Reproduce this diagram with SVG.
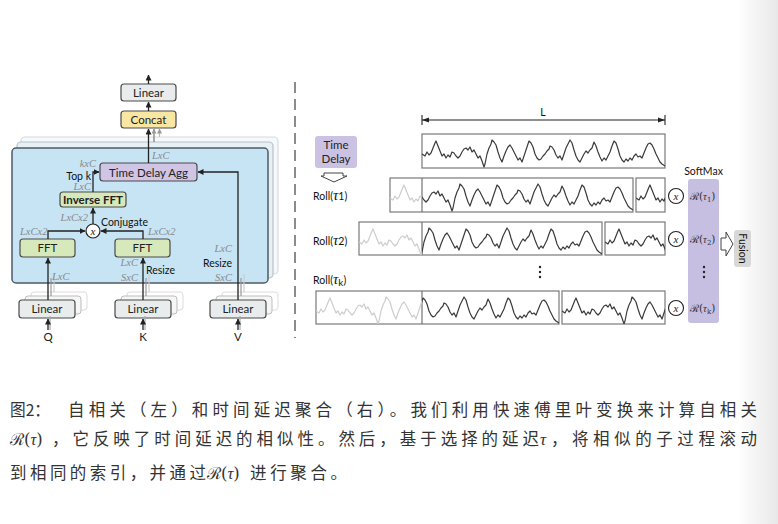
<svg xmlns="http://www.w3.org/2000/svg" xmlns:xlink="http://www.w3.org/1999/xlink" width="778" height="524" viewBox="0 0 778 524">
<style>
.box{stroke:#4a4a4a;stroke-width:1.2}
.lbl{font-family:Lato,"Open Sans","Liberation Sans",sans-serif;font-size:11.5px;fill:#222;text-anchor:middle}
.blk{font-family:Lato,"Open Sans","Liberation Sans",sans-serif;font-size:10.5px;fill:#111}
.dim{font-family:"Liberation Serif",serif;font-style:italic;font-size:10.5px;fill:#8a8a8a}
.ln{stroke:#222;stroke-width:1.3;fill:none}
.wv{fill:none;stroke:#3a3a3a;stroke-width:1.2;stroke-linejoin:round}
.wf{fill:none;stroke:#cdcdcd;stroke-width:1.2;stroke-linejoin:round}
.wb{fill:#fff;stroke:#7a7a7a;stroke-width:1.2}
.cap{font-family:"Noto Sans CJK SC","Noto Sans",sans-serif;font-size:16.5px;fill:#333}
.math{font-family:"DejaVu Serif","Liberation Serif",serif;fill:#333}
.it{font-family:"Liberation Serif",serif;font-style:italic}
</style>
<defs>
<marker id="ah" viewBox="0 0 6 6" refX="5.5" refY="3" markerWidth="6" markerHeight="6" markerUnits="userSpaceOnUse" orient="auto">
<path d="M0,0 L6,3 L0,6 z" fill="#222"/>
</marker>
<marker id="ahg" viewBox="0 0 6 6" refX="5.5" refY="3" markerWidth="5" markerHeight="5" markerUnits="userSpaceOnUse" orient="auto">
<path d="M0,0 L6,3 L0,6 z" fill="#999"/>
</marker>
<linearGradient id="strip" x1="0" y1="0" x2="1" y2="0">
<stop offset="0" stop-color="#ffffff"/>
<stop offset="0.45" stop-color="#f4f4f4"/>
<stop offset="1" stop-color="#e8e8e8"/>
</linearGradient>
<path id="w" d="M0,20 L3,22 5,18 7,21 9,19 11,14 13,9 14,7 16,12 18,17 20,22 22,20 24,24 26,21 28,23 30,18 32,19 34,22 36,24 38,22 40,18 42,15 44,14 46,16 48,13 50,18 52,16 54,20 56,24 58,22 60,27 62,33 63,30 65,20 67,14 69,10 70,6 72,8 74,11 76,18 78,24 80,28 82,22 84,17 86,13 88,11 90,14 92,18 94,22 96,26 98,24 100,28 102,22 104,16 106,10 107,7 109,9 111,13 113,20 115,24 117,26 119,25 121,22 123,20 125,17 127,15 128,12 130,13 132,16 134,21 136,24 138,22 140,26 142,20 144,14 146,10 148,6 150,9 152,16 154,22 156,26 158,28 160,24 162,20 164,17 166,19 168,16 170,14 172,8 174,12 176,18 178,23 180,27 182,24 184,26 186,22 188,18 190,12 192,7 194,9 196,15 198,22 200,26 202,28 204,25 206,27 208,24 210,26 212,22 214,20 216,23 218,22 220,24 222,19 224,14 226,10 228,9 230,11 232,15 234,20 236,24 238,28 240,30 243,32"/>
<clipPath id="r1f"><rect x="390" y="178" width="32" height="34"/></clipPath>
<clipPath id="r1d"><rect x="422" y="178" width="211" height="34"/></clipPath>
<clipPath id="r1s"><rect x="636" y="178" width="29" height="34"/></clipPath>
<clipPath id="r2f"><rect x="359" y="222" width="63" height="33"/></clipPath>
<clipPath id="r2d"><rect x="422" y="222" width="180" height="33"/></clipPath>
<clipPath id="r2s"><rect x="605" y="222" width="60" height="33"/></clipPath>
<clipPath id="rkf"><rect x="316" y="291" width="106" height="33"/></clipPath>
<clipPath id="rkd"><rect x="422" y="291" width="137" height="33"/></clipPath>
<clipPath id="rks"><rect x="562" y="291" width="103" height="33"/></clipPath>
</defs>
<rect width="778" height="524" fill="#fff"/>
<rect x="738" y="0" width="40" height="524" fill="url(#strip)"/>

<!-- left panel -->
<g id="stack">
<rect x="21" y="137" width="257" height="137" rx="4" fill="#f5f9fb" stroke="#d6dbde" stroke-width="1.2"/>
<rect x="17" y="142" width="256" height="136" rx="4" fill="#e6f0f5" stroke="#b8c2c8" stroke-width="1.2"/>
<rect x="12" y="148" width="256" height="135" rx="4" fill="#c7e4f4" stroke="#4f5b64" stroke-width="1.5"/>
</g>

<g id="linear-out">
<rect class="box" x="121" y="84" width="55" height="17" rx="3" fill="#e8ecec"/>
<text class="lbl" x="148.5" y="97">Linear</text>
</g>
<g id="concat">
<rect class="box" x="121" y="111" width="55" height="17" rx="3" fill="#fae6a3"/>
<text class="lbl" x="148.5" y="124">Concat</text>
</g>
<g id="tda">
<rect class="box" x="100" y="163" width="97" height="18" rx="3" fill="#d0c5e5"/>
<text class="lbl" x="148.5" y="176.5">Time Delay Agg</text>
</g>
<g id="ifft">
<rect class="box" x="60" y="192" width="66" height="15" rx="3" fill="#d7e9ba"/>
<text class="lbl" x="93" y="203.5" font-weight="bold" font-size="11">Inverse FFT</text>
</g>
<g id="conj">
<circle cx="93" cy="231" r="7" fill="#fff" stroke="#222" stroke-width="1.2"/>
<text x="93" y="234.5" text-anchor="middle" font-family="Liberation Serif,serif" font-style="italic" font-size="11" fill="#222">x</text>
</g>
<g id="fft-q">
<rect class="box" x="20" y="239" width="55" height="18" rx="3" fill="#d7e9ba"/>
<text class="lbl" x="47.5" y="252">FFT</text>
</g>
<g id="fft-k">
<rect class="box" x="115" y="239" width="55" height="18" rx="3" fill="#d7e9ba"/>
<text class="lbl" x="142.5" y="252">FFT</text>
</g>
<g id="lin-q">
<rect x="31" y="292" width="56" height="18" rx="3" fill="#fff" stroke="#dcdcdc"/>
<rect x="25" y="296" width="56" height="18" rx="3" fill="#f6f6f6" stroke="#bdbdbd"/>
<rect class="box" x="19" y="300" width="56" height="18" rx="3" fill="#e8ecec"/>
<text class="lbl" x="47" y="313">Linear</text>
</g>
<g id="lin-k">
<rect x="127" y="292" width="56" height="18" rx="3" fill="#fff" stroke="#dcdcdc"/>
<rect x="121" y="296" width="56" height="18" rx="3" fill="#f6f6f6" stroke="#bdbdbd"/>
<rect class="box" x="115" y="300" width="56" height="18" rx="3" fill="#e8ecec"/>
<text class="lbl" x="143" y="313">Linear</text>
</g>
<g id="lin-v">
<rect x="222" y="292" width="56" height="18" rx="3" fill="#fff" stroke="#dcdcdc"/>
<rect x="216" y="296" width="56" height="18" rx="3" fill="#f6f6f6" stroke="#bdbdbd"/>
<rect class="box" x="210" y="300" width="56" height="18" rx="3" fill="#e8ecec"/>
<text class="lbl" x="238" y="313">Linear</text>
</g>

<g id="connectors-left">
<line class="ln" x1="148.5" y1="84" x2="148.5" y2="75" marker-end="url(#ah)"/>
<line class="ln" x1="148.5" y1="111" x2="148.5" y2="102" marker-end="url(#ah)"/>
<line class="ln" x1="148.5" y1="163" x2="148.5" y2="129" marker-end="url(#ah)"/>
<line x1="154" y1="142" x2="154" y2="129" stroke="#777" stroke-width="1.2" marker-end="url(#ahg)"/>
<line x1="159.5" y1="137" x2="159.5" y2="129" stroke="#bbb" stroke-width="1.2" marker-end="url(#ahg)"/>
<path class="ln" d="M93,192 V172 H99" marker-end="url(#ah)"/>
<line class="ln" x1="93" y1="224" x2="93" y2="208" marker-end="url(#ah)"/>
<path class="ln" d="M48,239 V231 H85" marker-end="url(#ah)"/>
<path class="ln" d="M143,239 V231 H101" marker-end="url(#ah)"/>
<line x1="51" y1="296" x2="51" y2="278" stroke="#999" stroke-width="1.2"/>
<line x1="54" y1="292" x2="54" y2="274" stroke="#ccc" stroke-width="1.2"/>
<line x1="146" y1="296" x2="146" y2="278" stroke="#999" stroke-width="1.2"/>
<line x1="149" y1="292" x2="149" y2="274" stroke="#ccc" stroke-width="1.2"/>
<line x1="241" y1="296" x2="241" y2="278" stroke="#999" stroke-width="1.2"/>
<line x1="244" y1="292" x2="244" y2="274" stroke="#ccc" stroke-width="1.2"/>
<line class="ln" x1="48" y1="300" x2="48" y2="258" marker-end="url(#ah)"/>
<line class="ln" x1="143" y1="300" x2="143" y2="258" marker-end="url(#ah)"/>
<path class="ln" d="M238,300 V172 H198" marker-end="url(#ah)"/>
<line x1="50" y1="330" x2="50" y2="316" stroke="#aaa" stroke-width="1.2"/>
<line class="ln" x1="48" y1="330" x2="48" y2="319" marker-end="url(#ah)"/>
<line x1="145" y1="330" x2="145" y2="316" stroke="#aaa" stroke-width="1.2"/>
<line class="ln" x1="143" y1="330" x2="143" y2="319" marker-end="url(#ah)"/>
<line x1="240" y1="330" x2="240" y2="316" stroke="#aaa" stroke-width="1.2"/>
<line class="ln" x1="238" y1="330" x2="238" y2="319" marker-end="url(#ah)"/>
</g>

<g id="labels-left">
<text class="dim" x="152" y="159">LxC</text>
<text class="dim" x="96" y="167" text-anchor="end">kxC</text>
<text class="blk" x="91" y="180" text-anchor="end">Top k</text>
<text class="dim" x="91" y="190" text-anchor="end">LxC</text>
<text class="dim" x="88" y="221" text-anchor="end">LxCx2</text>
<text class="blk" x="101" y="226">Conjugate</text>
<text class="dim" x="20" y="235">LxCx2</text>
<text class="dim" x="148" y="235">LxCx2</text>
<text class="dim" x="52" y="280">LxC</text>
<text class="dim" x="138" y="266" text-anchor="end">LxC</text>
<text class="blk" x="146" y="274">Resize</text>
<text class="dim" x="138" y="281" text-anchor="end">SxC</text>
<text class="dim" x="232" y="252" text-anchor="end">LxC</text>
<text class="blk" x="232" y="267" text-anchor="end">Resize</text>
<text class="dim" x="232" y="281" text-anchor="end">SxC</text>
<text class="lbl" x="48" y="341" font-size="12">Q</text>
<text class="lbl" x="143" y="341" font-size="12">K</text>
<text class="lbl" x="238" y="341" font-size="12">V</text>
</g>

<line x1="295" y1="82" x2="295" y2="338" stroke="#666" stroke-width="1.5" stroke-dasharray="11 6"/>

<!-- right panel -->
<g id="length">
<line x1="422" y1="120" x2="665" y2="120" stroke="#222" stroke-width="1.1"/>
<line x1="422" y1="115" x2="422" y2="125" stroke="#222" stroke-width="1.1"/>
<line x1="665" y1="115" x2="665" y2="125" stroke="#222" stroke-width="1.1"/>
<path d="M422,120 L429,117.5 L429,122.5 z M665,120 L658,117.5 L658,122.5 z" fill="#222"/>
<text class="blk" x="543" y="116" text-anchor="middle">L</text>
</g>
<g id="time-delay">
<rect x="315" y="136" width="42" height="32" rx="3" fill="#cbc2e3"/>
<text class="lbl" x="336" y="149" font-size="11">Time</text>
<text class="lbl" x="336" y="163" font-size="11">Delay</text>
<polygon points="324,173 343,173 343,176 347,176 334,182 321,176 324,176" fill="#fff" stroke="#444" stroke-width="1"/>
</g>
<g id="row0">
<rect class="wb" x="422" y="134" width="243" height="34"/>
<use href="#w" xlink:href="#w" class="wv" transform="translate(422,134)"/>
</g>
<g id="row1">
<text class="blk" x="313" y="200" font-size="12.5">Roll(<tspan class="it" font-size="15">τ</tspan>1)</text>
<rect class="wb" x="390" y="178" width="243" height="34"/>
<line x1="422" y1="178" x2="422" y2="212" stroke="#666" stroke-width="1.1"/>
<g clip-path="url(#r1f)"><use href="#w" xlink:href="#w" class="wf" transform="translate(390,178)"/></g>
<g clip-path="url(#r1d)"><use href="#w" xlink:href="#w" class="wv" transform="translate(390,178)"/></g>
<rect class="wb" x="636" y="178" width="29" height="34"/>
<g clip-path="url(#r1s)"><use href="#w" xlink:href="#w" class="wv" transform="translate(636,178)"/></g>
<circle cx="676" cy="196" r="7.5" fill="#fff" stroke="#222" stroke-width="1.1"/>
<text x="676" y="199.5" text-anchor="middle" font-family="Liberation Serif,serif" font-style="italic" font-size="11" fill="#222">x</text>
</g>
<g id="row2">
<text class="blk" x="313" y="245" font-size="12.5">Roll(<tspan class="it" font-size="15">τ</tspan>2)</text>
<rect class="wb" x="359" y="222" width="243" height="33"/>
<line x1="422" y1="222" x2="422" y2="255" stroke="#666" stroke-width="1.1"/>
<g clip-path="url(#r2f)"><use href="#w" xlink:href="#w" class="wf" transform="translate(359,222)"/></g>
<g clip-path="url(#r2d)"><use href="#w" xlink:href="#w" class="wv" transform="translate(359,222)"/></g>
<rect class="wb" x="605" y="222" width="60" height="33"/>
<g clip-path="url(#r2s)"><use href="#w" xlink:href="#w" class="wv" transform="translate(605,222)"/></g>
<circle cx="676" cy="239" r="7.5" fill="#fff" stroke="#222" stroke-width="1.1"/>
<text x="676" y="242.5" text-anchor="middle" font-family="Liberation Serif,serif" font-style="italic" font-size="11" fill="#222">x</text>
</g>
<g id="dots">
<circle cx="540" cy="267" r="1.2" fill="#222"/><circle cx="540" cy="272" r="1.2" fill="#222"/><circle cx="540" cy="277" r="1.2" fill="#222"/>
</g>
<g id="rowk">
<text class="blk" x="313" y="284" font-size="12.5">Roll(<tspan class="it" font-size="15">τ</tspan><tspan font-size="10" dy="2">k</tspan><tspan dy="-2">)</tspan></text>
<rect class="wb" x="316" y="291" width="243" height="33"/>
<line x1="422" y1="291" x2="422" y2="324" stroke="#666" stroke-width="1.1"/>
<g clip-path="url(#rkf)"><use href="#w" xlink:href="#w" class="wf" transform="translate(316,291)"/></g>
<g clip-path="url(#rkd)"><use href="#w" xlink:href="#w" class="wv" transform="translate(316,291)"/></g>
<rect class="wb" x="562" y="291" width="103" height="33"/>
<g clip-path="url(#rks)"><use href="#w" xlink:href="#w" class="wv" transform="translate(562,291)"/></g>
<circle cx="676" cy="308" r="7.5" fill="#fff" stroke="#222" stroke-width="1.1"/>
<text x="676" y="311.5" text-anchor="middle" font-family="Liberation Serif,serif" font-style="italic" font-size="11" fill="#222">x</text>
</g>
<g id="softmax">
<text class="blk" x="703.5" y="175" text-anchor="middle" font-size="10.5">SoftMax</text>
<rect x="688" y="179" width="31" height="144" rx="3" fill="#c7bfe2"/>
<text class="math" x="690" y="200" font-size="10.5">ℛ(<tspan class="it">τ</tspan><tspan font-size="7" dy="2">1</tspan><tspan dy="-2">)</tspan></text>
<text class="math" x="690" y="243" font-size="10.5">ℛ(<tspan class="it">τ</tspan><tspan font-size="7" dy="2">2</tspan><tspan dy="-2">)</tspan></text>
<circle cx="704" cy="267" r="1.2" fill="#222"/><circle cx="704" cy="272" r="1.2" fill="#222"/><circle cx="704" cy="277" r="1.2" fill="#222"/>
<text class="math" x="690" y="312" font-size="10.5">ℛ(<tspan class="it">τ</tspan><tspan font-size="7" dy="2">k</tspan><tspan dy="-2">)</tspan></text>
</g>
<g id="fusion">
<polygon points="721,238 726,238 726,232 733,244 726,256 726,250 721,250" fill="#fff" stroke="#444" stroke-width="1"/>
<rect x="734" y="230" width="17" height="37" rx="3" fill="#d8d8d8"/>
<text class="blk" x="0" y="0" text-anchor="middle" transform="translate(739,248.5) rotate(90)">Fusion</text>
</g>

<!-- caption -->
<g id="caption">
<text class="cap" x="10" y="416" textLength="40" lengthAdjust="spacingAndGlyphs">图2：</text>
<text class="cap" x="68" y="416" textLength="689" lengthAdjust="spacing">自相关（左）和时间延迟聚合（右）。我们利用快速傅里叶变换来计算自相关</text>
<text class="math" x="10" y="445" font-size="16.5">ℛ(<tspan class="it">τ</tspan>)</text>
<text class="cap" x="52" y="445" textLength="487" lengthAdjust="spacing">，它反映了时间延迟的相似性。然后，基于选择的延迟</text>
<text class="math it" x="540" y="445" font-size="17">τ</text>
<text class="cap" x="551" y="445" textLength="206" lengthAdjust="spacing">，将相似的子过程滚动</text>
<text class="cap" x="10" y="479" textLength="196" lengthAdjust="spacing">到相同的索引，并通过</text>
<text class="math" x="207" y="479" font-size="16.5">ℛ(<tspan class="it">τ</tspan>)</text>
<text class="cap" x="250" y="479" textLength="97" lengthAdjust="spacing">进行聚合。</text>
</g>
</svg>
